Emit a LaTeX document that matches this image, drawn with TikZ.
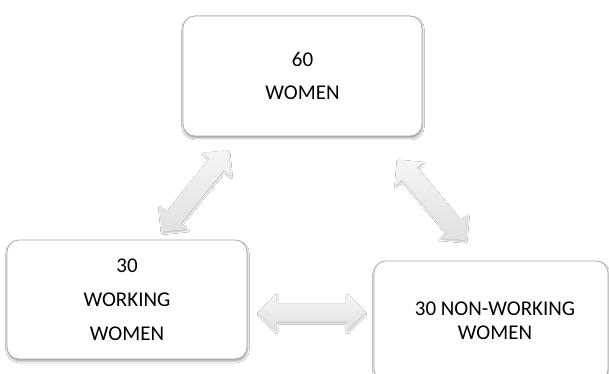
\documentclass[tikz,border=0pt]{standalone}
\usepackage{fontspec}
\setmainfont{Carlito}
\usetikzlibrary{shapes.arrows,shadows,shadows.blur,positioning}

\begin{document}
\begin{tikzpicture}[x=1pt,y=1pt]
	\tikzstyle{box}=[draw=gray!65, line width=0.8pt, rounded corners=12pt, fill=white, minimum width=239pt, minimum height=120pt, align=center, font=\fontsize{21}{24}\selectfont, blur shadow={shadow xshift=0.5pt, shadow yshift=-2pt, shadow blur radius=2pt, shadow opacity=40}]
	\tikzstyle{dbl}=[double arrow, draw=none, top color=gray!8, bottom color=gray!24, minimum height=105pt, inner xsep=0pt, inner ysep=9pt, double arrow head extend=9pt, double arrow head indent=0pt, blur shadow={shadow xshift=0.5pt, shadow yshift=-1.5pt, shadow blur radius=1.5pt, shadow opacity=25}]
	\clip (0,0) rectangle (609,373);
	\fill[white] (0,0) rectangle (609,373);
	\node[box] (all) at (302.5,297) {60\\[9pt]WOMEN};
	\node[box, minimum width=240pt, minimum height=119pt] (work) at (127,73.5) {30\\[10pt]WORKING\\[10pt]WOMEN};
	\node[box, minimum width=234pt] (nonwork) at (491,52) {\hspace*{8pt}30 NON-WORKING\\\hspace*{8pt}WOMEN};
	% arrows between groups
	\node[dbl, rotate=51] (a1) at (195,182) {};
	\node[dbl, rotate=-50] (a2) at (431.5,173) {};
	\node[dbl, minimum height=107pt] (a3) at (311.5,60.5) {};
\end{tikzpicture}
\end{document}
